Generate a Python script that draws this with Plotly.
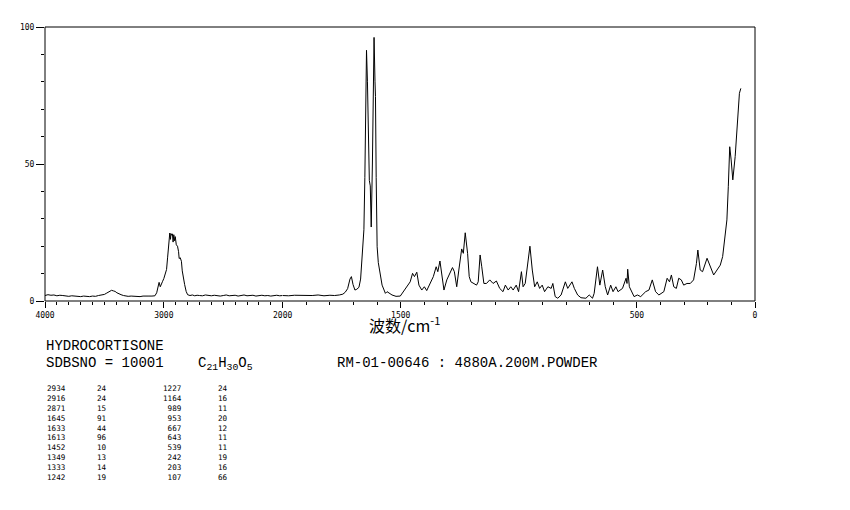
import plotly.graph_objects as go

# ---------------- data ----------------
# spectrum, high-wavenumber part (4000-2000 cm-1, compressed scale)
wn_high = [4000, 3975, 3950, 3925, 3900, 3875, 3850, 3825, 3800, 3775, 3750, 3725, 3700, 3675, 3650,
           3625, 3600, 3575, 3550, 3525, 3500, 3480, 3460, 3440, 3425, 3410, 3395, 3380, 3360, 3340,
           3320, 3300, 3275, 3250, 3225, 3200, 3175, 3150, 3125, 3100, 3075, 3060, 3050, 3040, 3030,
           3020, 3010, 3000, 2990, 2977, 2968, 2960, 2950, 2944, 2940, 2934, 2928, 2922, 2916, 2910,
           2904, 2895, 2885, 2876, 2871, 2862, 2852, 2845, 2835, 2825, 2812, 2800, 2780, 2760, 2740,
           2720, 2700, 2675, 2650, 2625, 2600, 2575, 2550, 2525, 2500, 2475, 2450, 2425, 2400, 2375,
           2350, 2325, 2300, 2275, 2250, 2225, 2200, 2175, 2150, 2125, 2100, 2075, 2050, 2025, 2000]
int_high = [2.0, 2.3, 2.1, 2.2, 1.9, 2.1, 2.0, 1.8, 1.7, 1.9, 1.8, 1.6, 1.6, 1.8, 1.7,
            1.6, 1.8, 1.7, 2.0, 2.1, 2.4, 2.9, 3.4, 3.9, 3.7, 3.5, 3.0, 2.6, 2.3, 2.0,
            1.8, 1.7, 1.8, 1.7, 1.6, 1.6, 1.8, 1.7, 1.8, 1.8, 1.9, 3.0, 4.5, 6.8, 5.2,
            6.0, 7.2, 8.2, 9.5, 11.5, 16.0, 20.0, 24.8, 22.5, 24.6, 24.0, 24.5, 21.5, 24.2, 22.0,
            23.5, 20.5, 20.0, 18.0, 15.5, 15.8, 14.5, 11.0, 8.0, 6.0, 3.5, 2.3, 2.0, 2.2, 1.9,
            2.1, 2.0, 1.9, 2.2, 2.0, 1.9, 2.1, 2.0, 1.8, 2.0, 2.2, 1.9, 2.0, 2.1, 1.8,
            2.0, 2.2, 1.9, 2.0, 2.1, 1.8, 2.0, 2.1, 1.9, 2.0, 1.8, 2.0, 2.1, 1.9, 2.0]

# low-wavenumber part (2000-0 cm-1)
wn_low = [2000, 1975, 1950, 1925, 1900, 1875, 1850, 1825, 1800, 1780, 1760, 1745, 1735, 1725, 1715,
          1709, 1702, 1694, 1686, 1677, 1670, 1666, 1660, 1656, 1652, 1649, 1645, 1641, 1637, 1633,
          1629, 1625, 1620, 1616, 1613, 1609, 1607, 1604, 1600, 1595, 1586, 1579, 1565, 1558, 1537,
          1520, 1502, 1488, 1474, 1460, 1450, 1442, 1432, 1423, 1411, 1400, 1390, 1376, 1362, 1350,
          1343, 1334, 1326, 1317, 1305, 1291, 1281, 1273, 1263, 1254, 1242, 1235, 1227, 1217, 1210,
          1203, 1193, 1179, 1172, 1164, 1157, 1148, 1137, 1123, 1109, 1095, 1081, 1067, 1057, 1045,
          1034, 1024, 1011, 1001, 989, 982, 973, 961, 953, 943, 933, 922, 912, 901, 891,
          877, 863, 856, 846, 835, 821, 803, 793, 775, 765, 751, 737, 716, 702, 688,
          681, 667, 657, 645, 634, 624, 611, 601, 589, 580, 561, 546, 542, 539, 532,
          512, 498, 484, 463, 449, 435, 421, 407, 386, 372, 362, 354, 344, 333, 323,
          312, 302, 288, 274, 260, 248, 242, 232, 222, 203, 189, 175, 161, 147, 137,
          129, 119, 113, 107, 101, 94, 84, 75, 66, 60]
int_low = [2.0, 1.9, 2.1, 2.0, 1.9, 2.0, 2.2, 1.9, 2.1, 2.0, 2.2, 2.5, 3.2, 4.5, 8.0,
           8.9, 6.0, 4.0, 4.3, 5.0, 8.0, 14.0, 20.0, 26.0, 45.0, 68.0, 91.5, 80.0, 50.0, 44.0,
           42.0, 27.0, 50.0, 85.0, 96.2, 80.0, 74.6, 45.0, 19.8, 14.0, 8.9, 5.8, 2.8, 3.4, 2.2,
           1.7, 1.8, 3.4, 5.2, 7.0, 10.1, 8.9, 10.5, 5.8, 4.0, 5.2, 3.8, 6.4, 8.9, 12.5,
           10.7, 14.6, 9.5, 4.0, 7.7, 10.1, 12.2, 10.7, 5.2, 11.3, 19.0, 17.4, 24.9, 17.4, 8.9,
           7.0, 6.4, 5.8, 7.0, 16.8, 12.5, 6.4, 6.4, 7.7, 6.4, 7.3, 4.6, 3.4, 5.8, 4.0,
           5.2, 4.0, 5.8, 3.4, 10.7, 5.2, 6.4, 13.7, 20.0, 11.3, 5.2, 7.0, 4.6, 5.8, 3.4,
           5.2, 4.6, 6.4, 1.6, 1.0, 2.2, 7.0, 4.6, 7.0, 4.6, 2.2, 1.2, 1.0, 2.2, 1.0,
           2.8, 12.5, 5.8, 11.3, 5.2, 2.2, 5.8, 3.4, 5.2, 3.4, 4.6, 8.3, 6.4, 11.6, 5.2,
           1.6, 2.2, 1.6, 3.4, 4.0, 7.7, 3.4, 2.2, 3.4, 8.3, 7.0, 9.5, 5.2, 4.6, 8.3,
           7.7, 5.8, 6.4, 6.4, 7.7, 13.7, 18.6, 11.3, 10.7, 15.6, 12.5, 9.5, 11.3, 13.1, 16.2,
           22.3, 29.6, 41.7, 56.3, 51.5, 44.2, 52.7, 63.6, 75.8, 77.6]

# axis ticks
x_major_high = [4000, 3000]
x_major_high_text = ["4000", "3000"]
x_major_low = [2000, 1500, 500, 0]
x_major_low_text = ["2000", "1500", "500", "0"]
y_major = [0, 50, 100]
y_major_text = ["0", "50", "100"]

# peak table
peak_wn_col1 = [2934, 2916, 2871, 1645, 1633, 1613, 1452, 1349, 1333, 1242]
peak_int_col1 = [24, 24, 15, 91, 44, 96, 10, 13, 14, 19]
peak_wn_col2 = [1227, 1164, 989, 953, 667, 643, 539, 242, 203, 107]
peak_int_col2 = [24, 16, 11, 20, 12, 11, 11, 19, 16, 66]

compound = "HYDROCORTISONE"
sdbs_line = "SDBSNO = 10001"
formula = "C<sub>21</sub>H<sub>30</sub>O<sub>5</sub>"
method = "RM-01-00646 : 4880A.200M.POWDER"
x_title = "波数/cm<sup>-1</sup>"

# ---------------- layout geometry (page pixels; page body has an 8px margin) ----------------
OFF = 8
W, H = 850 - 2 * OFF, 510 - 2 * OFF
L, R, T, B = 41, 755, 27, 301          # plot frame in page pixels
PW, PH = R - L, B - T
split = (280 - L) / PW


def px(x):
    return (x - L) / PW


def py(y):
    return (B - y) / PH


mono = "DejaVu Sans Mono"

fig = go.Figure()
fig.add_trace(go.Scatter(x=wn_high, y=int_high, mode="lines",
                         line=dict(color="black", width=1), xaxis="x", yaxis="y",
                         showlegend=False, hoverinfo="skip"))
fig.add_trace(go.Scatter(x=wn_low, y=int_low, mode="lines",
                         line=dict(color="black", width=1), xaxis="x2", yaxis="y",
                         showlegend=False, hoverinfo="skip"))

minor_high = [v for v in range(2100, 4000, 100) if v not in x_major_high]
minor_low = [v for v in range(100, 2000, 100) if v not in x_major_low]
minor_y = [v for v in range(10, 100, 10) if v not in y_major]

tickfont = dict(family=mono, size=8, color="black")
common_x = dict(showgrid=False, zeroline=False, showline=False, ticks="outside",
                ticklen=6, tickwidth=1, tickcolor="black", tickfont=tickfont,
                tickmode="array", fixedrange=True)

fig.update_layout(
    width=W, height=H,
    margin=dict(l=L - OFF, r=W - (R - OFF), t=T - OFF, b=H - (B - OFF), pad=0),
    paper_bgcolor="white", plot_bgcolor="white",
    showlegend=False,
    xaxis=dict(domain=[0, split], range=[4000, 2000], anchor="y",
               tickvals=x_major_high, ticktext=x_major_high_text,
               minor=dict(tickmode="array", tickvals=minor_high, ticks="outside",
                          ticklen=3, tickcolor="black", tickwidth=1, showgrid=False),
               **common_x),
    xaxis2=dict(domain=[split, 1], range=[2000, 0], anchor="y",
                tickvals=x_major_low, ticktext=x_major_low_text,
                minor=dict(tickmode="array", tickvals=minor_low, ticks="outside",
                           ticklen=3, tickcolor="black", tickwidth=1, showgrid=False),
                **common_x),
    yaxis=dict(domain=[0, 1], range=[0, 100], anchor="x", showgrid=False, zeroline=False,
               showline=False, ticks="outside", ticklen=8, tickwidth=1, tickcolor="black",
               tickmode="array", tickvals=y_major, ticktext=y_major_text, tickfont=tickfont,
               minor=dict(tickmode="array", tickvals=minor_y, ticks="outside", ticklen=3,
                          tickcolor="black", tickwidth=1, showgrid=False),
               fixedrange=True),
    shapes=[dict(type="rect", xref="paper", yref="paper", x0=0, x1=1, y0=0, y1=1,
                 line=dict(color="black", width=1), fillcolor="rgba(0,0,0,0)", layer="above")],
)

ann = []
ann.append(dict(x=px(403), y=py(324), text=x_title, showarrow=False, xref="paper", yref="paper",
                xanchor="center", yanchor="middle",
                font=dict(family="Noto Sans CJK SC", size=16, color="black")))
hdr_font = dict(family="Liberation Mono", size=14, color="black")
ann.append(dict(x=px(40), y=py(346), text=compound, showarrow=False, xref="paper", yref="paper",
                xanchor="left", yanchor="middle", font=hdr_font))
ann.append(dict(x=px(40), y=py(363), text=sdbs_line, showarrow=False, xref="paper", yref="paper",
                xanchor="left", yanchor="middle", font=hdr_font))
ann.append(dict(x=px(193), y=py(364), text=formula, showarrow=False, xref="paper", yref="paper",
                xanchor="left", yanchor="middle", font=hdr_font))
ann.append(dict(x=px(333), y=py(363), text=method, showarrow=False, xref="paper", yref="paper",
                xanchor="left", yanchor="middle", font=hdr_font))

# peak table: one multi-line text block per column
tbl_font = dict(family=mono, size=7.6, color="black")
tbl_mid = py(433)
columns = [
    (peak_wn_col1, 42, "left"),
    (peak_int_col1, 92, "left"),
    (peak_wn_col2, 180, "right"),
    (peak_int_col2, 214, "left"),
]
for values, xpos, side in columns:
    ann.append(dict(x=px(xpos), y=tbl_mid, text="<br>".join(str(v) for v in values),
                    showarrow=False, xref="paper", yref="paper", xanchor=side, align=side,
                    yanchor="middle", borderpad=0, font=tbl_font))

fig.update_layout(annotations=ann)
fig.write_html("out.html")
